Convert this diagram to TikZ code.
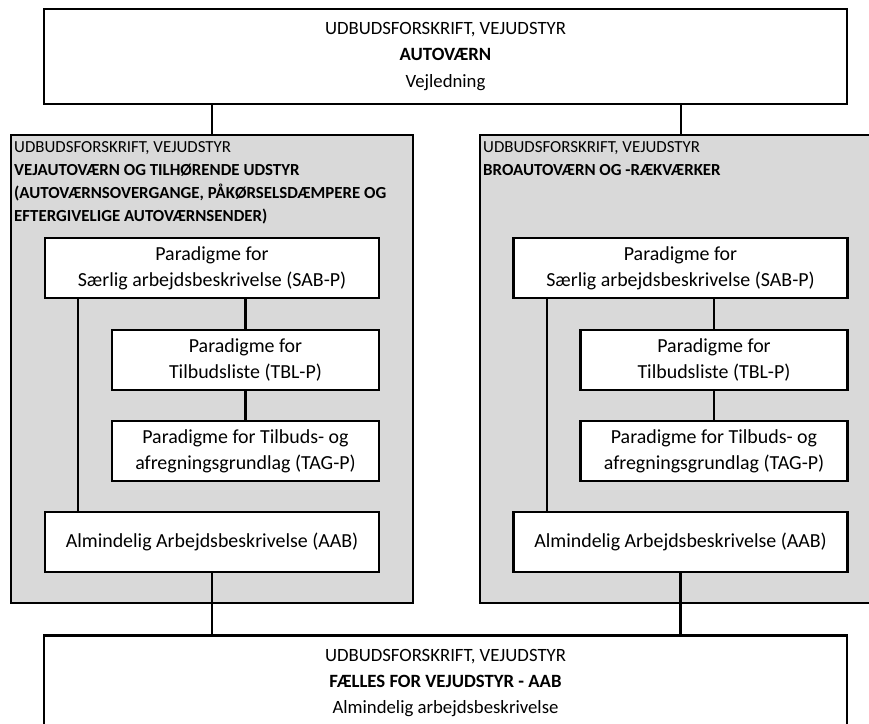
\documentclass[tikz,border=0pt]{standalone}
\usepackage{fontspec}
\setmainfont{Carlito}
\definecolor{panelgray}{RGB}{217,217,217}

\begin{document}
\begin{tikzpicture}
        [x=0.03cm, y=-0.03cm,
        box/.style={draw, line width=2.2pt, fill=white, inner sep=0pt, align=center,
                    font=\fontsize{17}{22.2}\selectfont},
        mainbox/.style={box, minimum width=24.09cm, minimum height=2.85cm,
                    font=\fontsize{16}{22.6}\selectfont},
        widebox/.style={box, minimum width=10.02cm, minimum height=1.8cm},
        narrowbox/.style={box, minimum width=8.01cm, minimum height=1.8cm},
        panel/.style={draw, line width=2.2pt, fill=panelgray, inner sep=0pt,
                    minimum width=12.06cm, minimum height=14.04cm},
        head/.style={anchor=north west, inner sep=0pt, align=left,
                     font=\fontsize{14.4}{19.8}\selectfont},
        link/.style={line width=1.9pt}]

        \useasboundingbox (0,0) rectangle (869,723);
        \clip (0,0) rectangle (869,723);

        % Top and bottom documents
        \node[mainbox] (top) at (445.5,56.5)
            {UDBUDSFORSKRIFT, VEJUDSTYR\\ \textbf{AUTOVÆRN}\\ Vejledning};
        \node[mainbox] (bottom) at (445.5,683)
            {UDBUDSFORSKRIFT, VEJUDSTYR\\ \textbf{FÆLLES FOR VEJUDSTYR - AAB}\\ Almindelig arbejdsbeskrivelse};

        % Grey panels
        \node[panel] (lpanel) at (212,369) {};
        \node[panel] (rpanel) at (681,369) {};
        \node[head] (lhead) at (14,141)
            {UDBUDSFORSKRIFT, VEJUDSTYR\\
             \textbf{VEJAUTOVÆRN OG TILHØRENDE UDSTYR}\\
             \textbf{(AUTOVÆRNSOVERGANGE, PÅKØRSELSDÆMPERE OG}\\
             \textbf{EFTERGIVELIGE AUTOVÆRNSENDER)}};
        \node[head] (rhead) at (483,141)
            {UDBUDSFORSKRIFT, VEJUDSTYR\\
             \textbf{BROAUTOVÆRN OG -RÆKVÆRKER}};

        % Left column
        \node[widebox] (lsab) at (212,268) {Paradigme for\\ Særlig arbejdsbeskrivelse (SAB-P)};
        \node[narrowbox] (ltbl) at (245.5,360) {Paradigme for\\ Tilbudsliste (TBL-P)};
        \node[narrowbox] (ltag) at (245.5,451) {Paradigme for Tilbuds- og\\ afregningsgrundlag (TAG-P)};
        \node[widebox] (laab) at (212,542) {Almindelig Arbejdsbeskrivelse (AAB)};

        % Right column
        \node[widebox] (rsab) at (680.5,268) {Paradigme for\\ Særlig arbejdsbeskrivelse (SAB-P)};
        \node[narrowbox] (rtbl) at (714,360) {Paradigme for\\ Tilbudsliste (TBL-P)};
        \node[narrowbox] (rtag) at (714,451) {Paradigme for Tilbuds- og\\ afregningsgrundlag (TAG-P)};
        \node[widebox] (raab) at (680.5,542) {Almindelig Arbejdsbeskrivelse (AAB)};

        % Links between documents
        \draw[link] (lpanel.north) -- (lpanel.north |- top.south);
        \draw[link] (rpanel.north) -- (rpanel.north |- top.south);
        \draw[link] (lsab.south -| ltbl.north) -- (ltbl.north);
        \draw[link] (ltbl) -- (ltag);
        \draw[link] ([xshift=1.02cm]lsab.south west) -- ([xshift=1.02cm]laab.north west);
        \draw[link] (laab.south) -- (laab.south |- bottom.north);
        \draw[link] (rsab.south -| rtbl.north) -- (rtbl.north);
        \draw[link] (rtbl) -- (rtag);
        \draw[link] ([xshift=1.05cm]rsab.south west) -- ([xshift=1.05cm]raab.north west);
        \draw[link] (raab.south) -- (raab.south |- bottom.north);

\end{tikzpicture}
\end{document}
